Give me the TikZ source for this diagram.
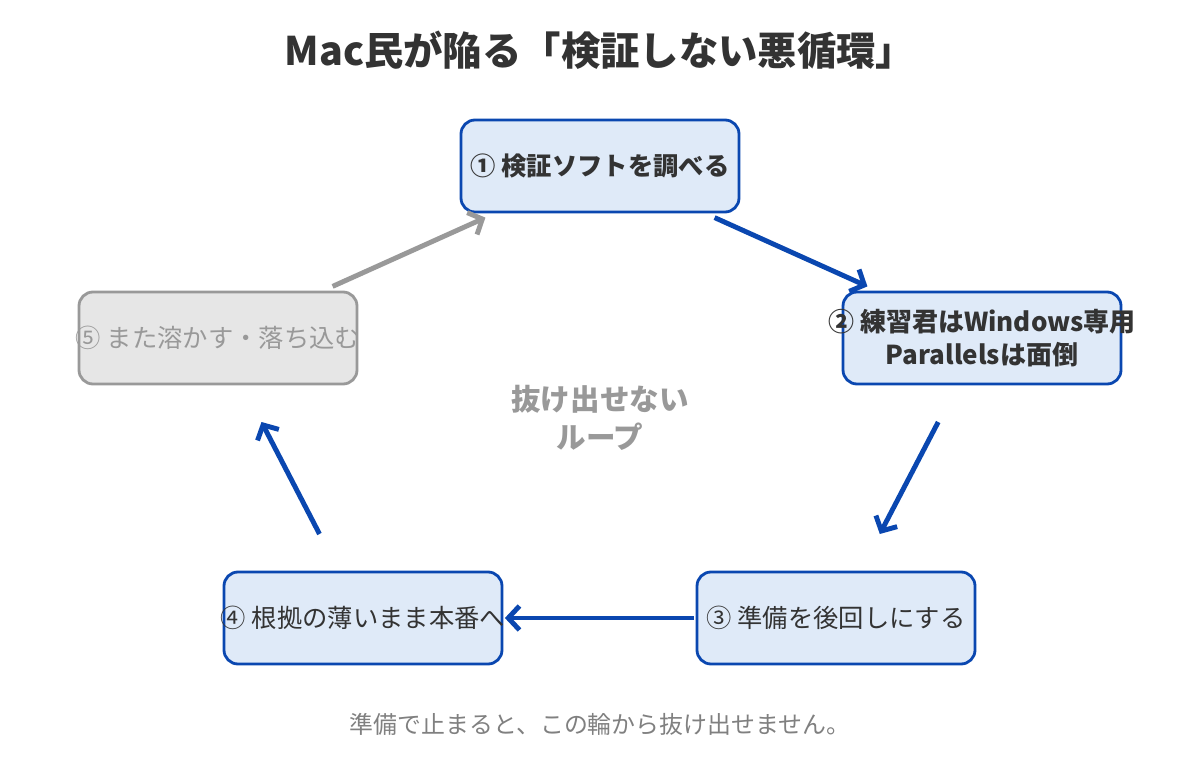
\documentclass[tikz,border=0pt]{standalone}
\usepackage{fontspec}
\setmainfont{Noto Sans CJK JP}
\usepackage{xcolor}
\usepackage{tikz}
\usetikzlibrary{arrows.meta,positioning,calc}

\definecolor{stepblue}{HTML}{0A47B0}
\definecolor{stepfill}{HTML}{DFEAF8}
\definecolor{grayfill}{HTML}{E6E6E6}
\definecolor{grayline}{HTML}{999999}
\definecolor{textdark}{HTML}{333333}

% text may run past the box edge, as in the original
\newcommand{\overrun}[1]{\makebox[0pt]{#1}}

\begin{document}
\begin{tikzpicture}[
  stepbox/.style={draw=stepblue, fill=stepfill, line width=2pt, rounded corners=3.5mm, align=center,
    minimum width=6.95cm, minimum height=2.3cm, inner sep=0pt, text=textdark, font=\fontsize{18}{22}\selectfont},
  fadebox/.style={stepbox, draw=grayline, fill=grayfill, text=grayline},
  arrow/.style={-{Straight Barb[length=2.8mm, width=6mm]}, line width=3.5pt, stepblue},
  fadearrow/.style={arrow, grayline}
]
\fill[white] (0,0) rectangle (30,-19);
\useasboundingbox (0,0) rectangle (30,-19);

\node[font=\fontsize{28}{33}\selectfont\bfseries, text=textdark] (title) at (15,-1.25) {Mac民が陥る「検証しない悪循環」};

\node[stepbox, font=\fontsize{18}{22}\selectfont\bfseries] (check) at (15,-4.15) {\overrun{① 検証ソフトを調べる}};
\node[stepbox, font=\fontsize{18.5}{24}\selectfont\bfseries] (windows) at (24.55,-8.45) {\overrun{② 練習君はWindows専用}\\\overrun{Parallelsは面倒}};
\node[stepbox] (later) at (20.9,-15.45) {\overrun{③ 準備を後回しにする}};
\node[stepbox] (stage) at (9.075,-15.45) {\overrun{④ 根拠の薄いまま本番へ}};
\node[fadebox] (melt) at (5.45,-8.45) {\overrun{⑤ また溶かす・落ち込む}};

\node[align=center, text=grayline, font=\fontsize{21}{27}\selectfont\bfseries] (loop) at (15,-10.45) {抜け出せない\\ループ};
\node[text=gray, font=\fontsize{17}{20}\selectfont] (note) at (15,-18.1) {準備で止まると、この輪から抜け出せません。};

\draw[arrow] ($(check)!0.3!(windows)$) -- ($(check)!0.7!(windows)$);
\draw[arrow] ($(windows)!0.3!(later)$) -- ($(windows)!0.7!(later)$);
\draw[arrow] ($(later)!0.3!(stage)$) -- ($(later)!0.7!(stage)$);
\draw[arrow] ($(stage)!0.3!(melt)$) -- ($(stage)!0.7!(melt)$);
\draw[fadearrow] ($(melt)!0.3!(check)$) -- ($(melt)!0.7!(check)$);
\end{tikzpicture}
\end{document}
